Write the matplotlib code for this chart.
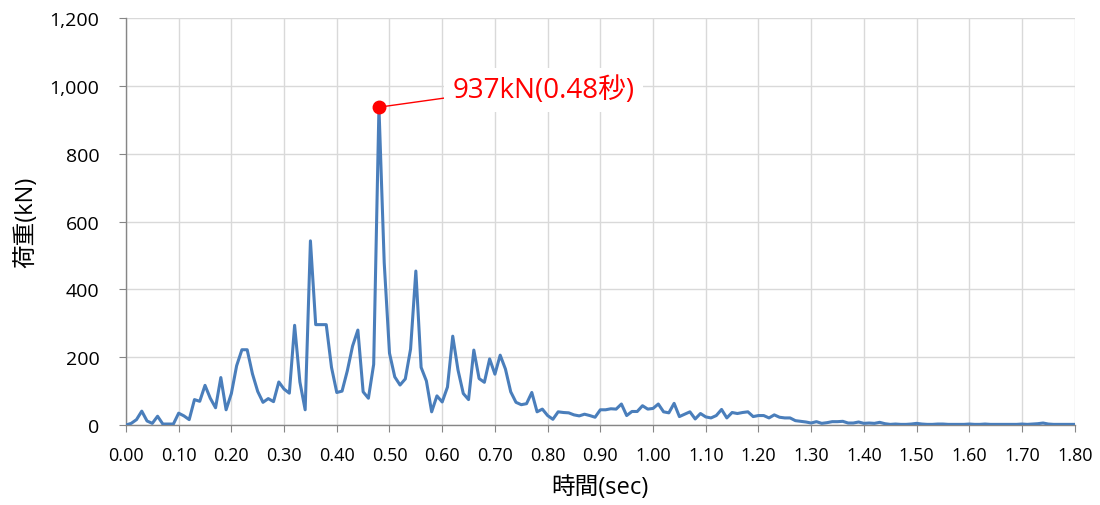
import matplotlib.pyplot as plt
import numpy as np
from matplotlib.ticker import FuncFormatter, MultipleLocator

plt.rcParams['font.family'] = ['Open Sans', 'Noto Sans CJK JP', 'DejaVu Sans']

# load (kN) sampled every 0.01 sec, from 0.00 to 1.80
load = [
    0, 5, 16, 41, 12, 5, 26, 3, 3, 3,
    35, 27, 16, 75, 70, 117, 79, 51, 140, 45,
    93, 175, 222, 222, 151, 99, 67, 78, 69, 127,
    106, 94, 294, 127, 45, 543, 296, 296, 296, 170,
    96, 100, 160, 233, 280, 98, 79, 179, 937, 478,
    212, 142, 118, 136, 224, 454, 170, 130, 39, 86,
    68, 112, 262, 162, 93, 75, 221, 137, 126, 195,
    150, 206, 165, 98, 67, 60, 63, 96, 39, 47,
    28, 17, 39, 37, 36, 30, 27, 32, 28, 23,
    45, 45, 48, 47, 62, 28, 40, 40, 57, 47,
    49, 62, 39, 36, 64, 25, 32, 39, 18, 34,
    24, 21, 28, 46, 21, 37, 34, 37, 39, 25,
    28, 28, 21, 30, 23, 21, 21, 13, 11, 9,
    6, 10, 5, 7, 10, 10, 11, 6, 6, 9,
    5, 6, 5, 8, 4, 2, 3, 2, 2, 3,
    5, 3, 2, 2, 3, 3, 2, 2, 2, 2,
    3, 2, 2, 3, 2, 2, 2, 2, 2, 2,
    3, 2, 3, 4, 6, 3, 2, 2, 2, 2,
    2,
]
time = np.arange(len(load)) / 100.0

peak_time = 0.48
peak_load = 937
peak_label = '937kN(0.48秒)'

fig = plt.figure(figsize=(11, 5.06), dpi=100)
ax = fig.add_axes([0.1145, 0.158, 0.8625, 0.8045])

ax.plot(time, load, color='#4a7ebb', linewidth=2.2, zorder=3)
ax.plot([peak_time], [peak_load], 'o', color='#ff0000', markersize=9, zorder=4)

# label sits in a white box, joined to the peak by a thin red line
ax.annotate(peak_label, xy=(peak_time, peak_load), xytext=(0.62, 988),
            fontsize=20, color='#ff0000', ha='left', va='center', zorder=5,
            bbox=dict(boxstyle='square,pad=0.3', fc='white', ec='none'),
            arrowprops=dict(arrowstyle='-', color='#ff0000', lw=1,
                            shrinkA=0, shrinkB=0, relpos=(0, 0.25)))

ax.set_xlim(0, 1.8)
ax.set_ylim(0, 1200)
ax.xaxis.set_major_locator(MultipleLocator(0.1))
ax.yaxis.set_major_locator(MultipleLocator(200))
ax.xaxis.set_major_formatter(FuncFormatter(lambda v, p: f'{v:.2f}'))
ax.yaxis.set_major_formatter(FuncFormatter(lambda v, p: f'{v:,.0f}'))

ax.grid(True, color='#d9d9d9', linewidth=1)
ax.set_axisbelow(True)
for side in ['top', 'right']:
    ax.spines[side].set_visible(False)
for side in ['left', 'bottom']:
    ax.spines[side].set_color('#868686')
    ax.spines[side].set_linewidth(1)

ax.tick_params(axis='x', length=5, color='#868686', labelsize=13, pad=10)
ax.tick_params(axis='y', length=5, color='#868686', labelsize=14, pad=14)

ax.set_xlabel('時間(sec)', fontsize=17, labelpad=8)
ax.set_ylabel('荷重(kN)', fontsize=17, labelpad=8)

fig.savefig('out.png', dpi=100, facecolor='white')
